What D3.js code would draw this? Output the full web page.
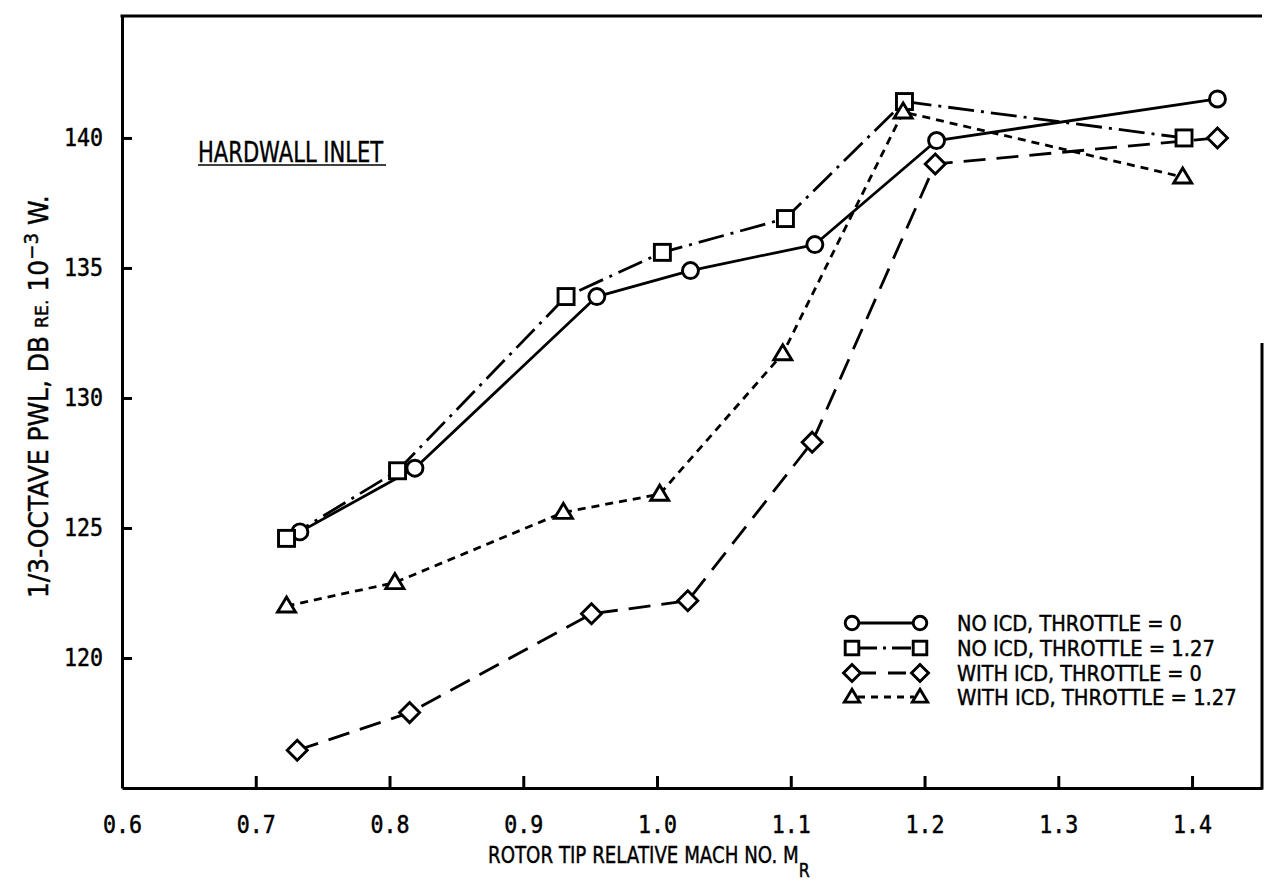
<!DOCTYPE html>
<html>
<head>
<meta charset="utf-8">
<script src="https://cdn.jsdelivr.net/npm/d3@7"></script>
<style>
  html, body { margin: 0; padding: 0; background: #fff; }
  svg { display: block; }
</style>
</head>
<body>
<svg id="chart" width="1264" height="884"></svg>
<script>
// ---------------- DATA ----------------
const xTicks = [0.6, 0.7, 0.8, 0.9, 1.0, 1.1, 1.2, 1.3, 1.4];
const xTickLabels = ["0.6", "0.7", "0.8", "0.9", "1.0", "1.1", "1.2", "1.3", "1.4"];
const yTicks = [120, 125, 130, 135, 140];
const yTickLabels = ["120", "125", "130", "135", "140"];

const seriesNames = [
  "NO ICD, THROTTLE = 0",
  "NO ICD, THROTTLE = 1.27",
  "WITH ICD, THROTTLE = 0",
  "WITH ICD, THROTTLE = 1.27"
];

const machNoIcdT0 = [0.733, 0.819, 0.955, 1.025, 1.118, 1.209, 1.419];
const pwlNoIcdT0  = [124.85, 127.3, 133.9, 134.9, 135.9, 139.9, 141.5];

const machNoIcdT127 = [0.723, 0.806, 0.932, 1.004, 1.096, 1.185, 1.394];
const pwlNoIcdT127  = [124.6, 127.2, 133.9, 135.6, 136.9, 141.4, 140.0];

const machIcdT0 = [0.731, 0.815, 0.951, 1.023, 1.116, 1.208, 1.419];
const pwlIcdT0  = [116.45, 117.9, 121.7, 122.2, 128.3, 139.0, 140.0];

const machIcdT127 = [0.723, 0.804, 0.930, 1.002, 1.094, 1.184, 1.393];
const pwlIcdT127  = [122.0, 122.9, 125.6, 126.3, 131.7, 141.0, 138.5];

// ---------------- SETUP ----------------
const svg = d3.select("#chart");
const x = d3.scaleLinear().domain([0.6, 1.4523]).range([122, 1262]);
const y = d3.scaleLinear().domain([115, 144.69]).range([788, 16]);

const INK = "#000";
const MONO = "'DejaVu Sans Mono', 'Liberation Mono', monospace";
const SANS = "'DejaVu Sans', 'Liberation Sans', sans-serif";

const styles = [
  { marker: "circle",   dash: null },
  { marker: "square",   dash: "26,7,3,7" },
  { marker: "diamond",  dash: "22,11" },
  { marker: "triangle", dash: "8,6" }
];

const seriesData = [
  d3.zip(machNoIcdT0, pwlNoIcdT0),
  d3.zip(machNoIcdT127, pwlNoIcdT127),
  d3.zip(machIcdT0, pwlIcdT0),
  d3.zip(machIcdT127, pwlIcdT127)
];

function drawMarker(g, type, cx, cy, scale) {
  const s = scale || 1;
  const common = sel => sel.attr("fill", "#fff").attr("stroke", INK).attr("stroke-width", 2.9);
  if (type === "circle") {
    common(g.append("circle").attr("cx", cx).attr("cy", cy).attr("r", 8 * s));
  } else if (type === "square") {
    const h = 8 * s;
    common(g.append("rect").attr("x", cx - h).attr("y", cy - h).attr("width", 2 * h).attr("height", 2 * h));
  } else if (type === "diamond") {
    const h = 10 * s;
    common(g.append("path").attr("d", `M${cx},${cy - h}L${cx + h},${cy}L${cx},${cy + h}L${cx - h},${cy}Z`));
  } else if (type === "triangle") {
    const w = 9 * s, hu = 9 * s, hd = 6 * s;
    common(g.append("path").attr("d", `M${cx},${cy - hu}L${cx + w},${cy + hd}L${cx - w},${cy + hd}Z`));
  }
}

function fitLabel(parent, opts) {
  const g = parent.append("g");
  const t = g.append("text")
    .attr("font-family", opts.family || SANS)
    .attr("font-size", opts.size)
    .attr("fill", INK)
    .attr("stroke", INK).attr("stroke-width", 0.45)
    .attr("x", 0).attr("y", 0);
  opts.build(t);
  const w = t.node().getBBox().width;
  const sx = opts.width / w;
  g.attr("transform", `translate(${opts.x},${opts.y}) rotate(${opts.rotate || 0}) scale(${sx},1)`);
  return g;
}

// ---------------- AXES / FRAME ----------------
const xAxis = d3.axisBottom(x)
  .tickValues(xTicks)
  .tickFormat((d, i) => xTickLabels[i])
  .tickSizeInner(-12).tickSizeOuter(0).tickPadding(28);
const yAxis = d3.axisLeft(y)
  .tickValues(yTicks)
  .tickFormat((d, i) => yTickLabels[i])
  .tickSizeInner(-10).tickSizeOuter(0).tickPadding(19);

const gx = svg.append("g").attr("transform", `translate(0,${y(115)})`).call(xAxis);
const gy = svg.append("g").attr("transform", `translate(${x(0.6)},0)`).call(yAxis);

[gx, gy].forEach(g => {
  g.select(".domain").attr("stroke", INK).attr("stroke-width", 3);
  g.selectAll(".tick line").attr("stroke", INK).attr("stroke-width", 3);
  g.selectAll(".tick text")
    .attr("fill", INK).attr("font-family", MONO)
    .attr("stroke", INK).attr("stroke-width", 0.5)
    .attr("font-size", 24)
    .attr("textLength", 39).attr("lengthAdjust", "spacingAndGlyphs");
});

svg.append("line")
  .attr("x1", x(0.6) - 1.5).attr("x2", x.range()[1])
  .attr("y1", y.range()[1]).attr("y2", y.range()[1])
  .attr("stroke", INK).attr("stroke-width", 3);
svg.append("line")
  .attr("x1", x.range()[1]).attr("x2", x.range()[1])
  .attr("y1", 343).attr("y2", y(115) + 1.5)
  .attr("stroke", INK).attr("stroke-width", 3);

// ---------------- SERIES ----------------
const line = d3.line().x(d => x(d[0])).y(d => y(d[1]));
const gLines = svg.append("g");
const gMarks = svg.append("g");
seriesData.forEach((data, i) => {
  gLines.append("path")
    .attr("d", line(data))
    .attr("fill", "none")
    .attr("stroke", INK)
    .attr("stroke-width", 2.8)
    .attr("stroke-dasharray", styles[i].dash)
    .attr("stroke-linejoin", "round");
});
seriesData.forEach((data, i) => {
  data.forEach(d => drawMarker(gMarks, styles[i].marker, x(d[0]), y(d[1]), 1));
});

// ---------------- LEGEND ----------------
const legendRowsY = [623, 648, 673, 697];
const legendWidths = [225, 258, 245, 280];
const legendDash = [null, "19,6,3,6", "18,12", "7,6"];
const lg = svg.append("g");
seriesNames.forEach((name, i) => {
  const ry = legendRowsY[i];
  lg.append("line")
    .attr("x1", 858).attr("x2", 914)
    .attr("y1", ry).attr("y2", ry)
    .attr("stroke", INK).attr("stroke-width", 2.8)
    .attr("stroke-dasharray", legendDash[i]);
  drawMarker(lg, styles[i].marker, 852, ry, 0.85);
  drawMarker(lg, styles[i].marker, 920, ry, 0.85);
  fitLabel(lg, {
    x: 957, y: ry + 8, size: 21, width: legendWidths[i],
    build: t => t.text(name)
  });
});

// ---------------- TITLES ----------------
fitLabel(svg, {
  x: 198, y: 162, size: 28, width: 186,
  build: t => t.text("HARDWALL INLET")
});
svg.append("line")
  .attr("x1", 198).attr("x2", 386).attr("y1", 165).attr("y2", 165)
  .attr("stroke", INK).attr("stroke-width", 1.6);

fitLabel(svg, {
  x: 488, y: 863, size: 23, width: 322,
  build: t => {
    t.append("tspan").text("ROTOR TIP RELATIVE MACH NO. M");
    t.append("tspan").attr("dy", 14).attr("font-size", 20).text("R");
  }
});

fitLabel(svg, {
  x: 48, y: 598, rotate: -90, size: 26, width: 403,
  build: t => {
    t.append("tspan").text("1/3-OCTAVE PWL, DB ");
    t.append("tspan").attr("font-size", 18).text("RE.");
    t.append("tspan").text(" 10");
    t.append("tspan").attr("dy", -10).attr("font-size", 19).text("\u22123");
    t.append("tspan").attr("dy", 10).text(" W.");
  }
});
</script>
</body>
</html>
